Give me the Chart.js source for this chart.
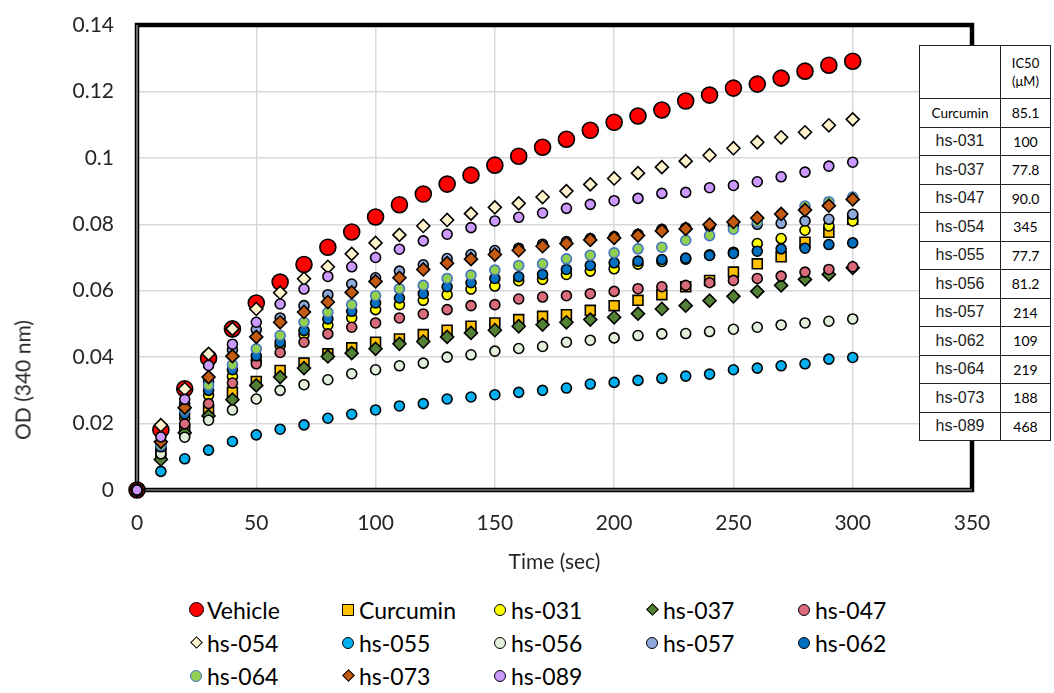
<!DOCTYPE html>
<html>
<head>
<meta charset="utf-8">
<script src="https://cdn.jsdelivr.net/npm/chart.js@4.4.1/dist/chart.umd.min.js"></script>
<style>
  html, body { margin: 0; padding: 0; background: #fff; }
  body { width: 1054px; height: 693px; position: relative; overflow: hidden; font-family: Lato, "Noto Sans", sans-serif; }
  #wrap { position: absolute; left: 0; top: 0; width: 1054px; height: 585px; }
  #ytitle {
    position: absolute; left: 22px; top: 380px; transform: translate(-50%, -50%) rotate(-90deg);
    font-size: 21px; color: #262626; white-space: nowrap;
  }
  #legend {
    position: absolute; left: 188px; top: 593px;
    display: grid; grid-template-columns: repeat(5, 152px); grid-auto-rows: 33px;
    font-size: 23px; color: #000;
  }
  #legend .item { display: flex; align-items: center; }
  #legend .mk { width: 16px; height: 16px; display: flex; align-items: center; justify-content: center; margin-right: 3px; }
  #legend .mk span { display: block; box-sizing: border-box; border: 1.5px solid #000; }
  #ic50 {
    position: absolute; left: 919px; top: 45px; border-collapse: collapse; background: #fff;
    color: #000;
  }
  #ic50 td { border: 1.3px solid #222; padding: 0; text-align: center; height: 27.5px; }
  #ic50 td.name { width: 80px; font-family: "Liberation Sans", Arial, sans-serif; font-size: 16px; color: #222; }
  #ic50 td.name.small { font-family: Lato, sans-serif; font-size: 13.5px; color: #000; }
  #ic50 td.val { width: 49px; font-size: 14px; }
  #ic50 tr.head td { height: 52px; font-size: 13px; line-height: 18px; }
</style>
</head>
<body>
<div id="wrap"><canvas id="chart" width="1054" height="585"></canvas></div>
<div id="ytitle">OD (340 nm)</div>
<div id="legend"></div>
<table id="ic50"></table>
<script>
const timeSec = [0, 10, 20, 30, 40, 50, 60, 70, 80, 90, 100, 110, 120, 130, 140, 150, 160, 170, 180, 190, 200, 210, 220, 230, 240, 250, 260, 270, 280, 290, 300]

const vehicle = [0, 0.0181, 0.0305, 0.0397, 0.0485, 0.0563, 0.0626, 0.0679, 0.0731, 0.0777, 0.0822, 0.0859, 0.0891, 0.0921, 0.0948, 0.0978, 0.1005, 0.1032, 0.1056, 0.1083, 0.1107, 0.1126, 0.1144, 0.1171, 0.1189, 0.121, 0.1222, 0.124, 0.1261, 0.1279, 0.1291]
const curcumin = [0, 0.011, 0.0181, 0.0241, 0.0294, 0.0327, 0.036, 0.0382, 0.041, 0.0428, 0.0445, 0.0455, 0.0468, 0.0481, 0.0493, 0.0503, 0.0513, 0.0523, 0.0528, 0.0541, 0.0555, 0.0571, 0.0588, 0.0612, 0.0631, 0.0656, 0.0681, 0.0702, 0.0746, 0.0776, 0.0815]
const hs031 = [0, 0.0125, 0.0216, 0.0285, 0.0342, 0.039, 0.0435, 0.0468, 0.0496, 0.0518, 0.0543, 0.0558, 0.0571, 0.0588, 0.0605, 0.0614, 0.063, 0.0634, 0.0649, 0.0659, 0.0666, 0.068, 0.0688, 0.0695, 0.0708, 0.0716, 0.0742, 0.0757, 0.0782, 0.0795, 0.081]
const hs037 = [0, 0.0092, 0.0172, 0.0223, 0.0272, 0.0315, 0.034, 0.0367, 0.0402, 0.0412, 0.0425, 0.044, 0.0447, 0.0461, 0.0473, 0.0481, 0.0493, 0.0498, 0.0505, 0.0513, 0.052, 0.0531, 0.0545, 0.0555, 0.057, 0.0583, 0.0598, 0.0616, 0.0634, 0.0649, 0.0669]
const hs047 = [0, 0.0127, 0.0199, 0.026, 0.0322, 0.038, 0.0414, 0.0445, 0.047, 0.049, 0.0503, 0.0518, 0.053, 0.0543, 0.0555, 0.0558, 0.0575, 0.0581, 0.0585, 0.0591, 0.0598, 0.0606, 0.0612, 0.0616, 0.0624, 0.0631, 0.0637, 0.0644, 0.0656, 0.0664, 0.0672]
const hs054 = [0, 0.0195, 0.0304, 0.041, 0.0485, 0.0545, 0.0594, 0.0636, 0.0672, 0.0711, 0.0744, 0.0768, 0.0795, 0.0813, 0.0832, 0.0851, 0.0863, 0.0882, 0.09, 0.092, 0.0938, 0.0954, 0.0972, 0.099, 0.1008, 0.1029, 0.1047, 0.1062, 0.1077, 0.1098, 0.1116]
const hs055 = [0, 0.0056, 0.0094, 0.012, 0.0146, 0.0166, 0.0183, 0.0196, 0.0216, 0.0228, 0.0241, 0.0253, 0.026, 0.0274, 0.028, 0.0287, 0.0294, 0.03, 0.0307, 0.0319, 0.0324, 0.033, 0.0336, 0.0343, 0.0349, 0.0362, 0.0367, 0.0374, 0.038, 0.0394, 0.0399]
const hs056 = [0, 0.0109, 0.0159, 0.021, 0.0241, 0.0274, 0.03, 0.0317, 0.0332, 0.035, 0.0362, 0.0374, 0.0382, 0.04, 0.0407, 0.0418, 0.0426, 0.0432, 0.0445, 0.0451, 0.0458, 0.0465, 0.047, 0.0471, 0.0477, 0.0484, 0.049, 0.0497, 0.0503, 0.0508, 0.0515]
const hs057 = [0, 0.014, 0.026, 0.0325, 0.0422, 0.0483, 0.0518, 0.0555, 0.0588, 0.062, 0.0639, 0.0659, 0.0678, 0.0697, 0.0709, 0.0721, 0.0728, 0.074, 0.0748, 0.0757, 0.0763, 0.077, 0.0785, 0.0789, 0.0794, 0.0795, 0.08, 0.0803, 0.081, 0.0815, 0.083]
const hs062 = [0, 0.013, 0.0229, 0.03, 0.0362, 0.0404, 0.0445, 0.048, 0.0515, 0.0538, 0.0563, 0.0578, 0.0591, 0.0612, 0.0624, 0.0637, 0.0642, 0.0649, 0.0664, 0.0676, 0.0684, 0.0689, 0.0694, 0.0698, 0.0706, 0.0712, 0.0719, 0.0726, 0.0728, 0.0739, 0.0744]
const hs064 = [0, 0.0135, 0.024, 0.0315, 0.0377, 0.0425, 0.0465, 0.0505, 0.0535, 0.0558, 0.0585, 0.0606, 0.0616, 0.0637, 0.0647, 0.0662, 0.0676, 0.0681, 0.0696, 0.0707, 0.0714, 0.0726, 0.0731, 0.0752, 0.0766, 0.0785, 0.0807, 0.083, 0.0855, 0.0868, 0.0882]
const hs073 = [0, 0.0145, 0.0248, 0.034, 0.0403, 0.0461, 0.0505, 0.0536, 0.0566, 0.0595, 0.0628, 0.0639, 0.0664, 0.0683, 0.0695, 0.0709, 0.0722, 0.0734, 0.0742, 0.0753, 0.0759, 0.0766, 0.078, 0.0786, 0.0799, 0.0807, 0.0819, 0.0831, 0.0843, 0.0856, 0.0875]
const hs089 = [0, 0.016, 0.0273, 0.0375, 0.0439, 0.0505, 0.056, 0.0605, 0.0643, 0.0672, 0.07, 0.0725, 0.075, 0.077, 0.079, 0.081, 0.0821, 0.0834, 0.0848, 0.086, 0.0871, 0.0878, 0.0893, 0.0896, 0.091, 0.0917, 0.0928, 0.0943, 0.0957, 0.0975, 0.0987]

// IC50 table
const tableNames = ["Curcumin", "hs-031", "hs-037", "hs-047", "hs-054", "hs-055", "hs-056", "hs-057", "hs-062", "hs-064", "hs-073", "hs-089"]
const ic50Values = ["85.1", "100", "77.8", "90.0", "345", "77.7", "81.2", "214", "109", "219", "188", "468"]

const series = [
  { label: "Vehicle", data: vehicle, shape: "circle", fill: "#ff0000", r: 8 },
  { label: "Curcumin", data: curcumin, shape: "rect", fill: "#ffc000", r: 7 },
  { label: "hs-031", data: hs031, shape: "circle", fill: "#ffff00", r: 5 },
  { label: "hs-037", data: hs037, shape: "rectRot", fill: "#548235", r: 6.5 },
  { label: "hs-047", data: hs047, shape: "circle", fill: "#d96b7a", r: 5 },
  { label: "hs-054", data: hs054, shape: "rectRot", fill: "#fff2cc", r: 6.5 },
  { label: "hs-055", data: hs055, shape: "circle", fill: "#00b0f0", r: 5 },
  { label: "hs-056", data: hs056, shape: "circle", fill: "#e2efda", r: 5 },
  { label: "hs-057", data: hs057, shape: "circle", fill: "#8ea9db", r: 5 },
  { label: "hs-062", data: hs062, shape: "circle", fill: "#0070c0", r: 5 },
  { label: "hs-064", data: hs064, shape: "circle", fill: "#92d050", r: 5, border: "#4472c4" },
  { label: "hs-073", data: hs073, shape: "rectRot", fill: "#c55a11", r: 6.5 },
  { label: "hs-089", data: hs089, shape: "circle", fill: "#cc99ff", r: 5 },
]

// later series sit on top, like the spreadsheet
const datasets = series.map((s, i) => ({
  label: s.label,
  data: timeSec.map((t, k) => ({ x: t, y: s.data[k] })),
  pointStyle: s.shape,
  pointRadius: s.r,
  pointHoverRadius: s.r,
  pointBackgroundColor: s.fill,
  pointBorderColor: s.border || "#000",
  pointBorderWidth: 1.6,
  showLine: false,
  order: series.length - i,
  clip: false,
}))

const framePlugin = {
  id: "frame",
  beforeDatasetsDraw(chart) {
    const { ctx, chartArea: a } = chart
    ctx.save()
    ctx.strokeStyle = "#000"
    ctx.lineWidth = 4.5
    ctx.strokeRect(a.left, a.top, a.right - a.left, a.bottom - a.top)
    ctx.strokeStyle = "#b0b0b0"
    ctx.lineWidth = 1.2
    ctx.beginPath()
    ctx.moveTo(a.left, a.top)
    ctx.lineTo(a.left, a.bottom)
    ctx.lineTo(a.right, a.bottom)
    ctx.stroke()
    ctx.restore()
  },
}

const tickColor = "#262626"
const tickFont = { family: "Lato, 'Noto Sans', sans-serif", size: 21 }
// invisible tick marks push labels away from the frame without adding top padding
const gridOpts = (len) => ({ color: "#d9d9d9", lineWidth: 1.5, drawTicks: true, tickLength: len, tickColor: "rgba(0,0,0,0)" })

new Chart(document.getElementById("chart"), {
  type: "scatter",
  data: { datasets },
  options: {
    responsive: false,
    animation: false,
    layout: { autoPadding: false, padding: { left: 0, top: 25, right: 82, bottom: 0 } },
    plugins: { legend: { display: false }, tooltip: { enabled: false } },
    scales: {
      x: {
        type: "linear",
        min: 0,
        max: 350,
        ticks: { stepSize: 50, color: tickColor, font: tickFont, padding: 0, maxRotation: 0 },
        grid: gridOpts(21),
        border: { display: false },
        title: { display: true, text: "Time (sec)", color: tickColor, font: { family: tickFont.family, size: 21 }, padding: { bottom: 10 } },
        afterFit: (s) => { s.height = 95 },
      },
      y: {
        min: 0,
        max: 0.14,
        ticks: { stepSize: 0.02, color: tickColor, font: tickFont, padding: 0, callback: (v) => String(+v.toFixed(2)) },
        grid: gridOpts(23),
        border: { display: false },
        afterFit: (s) => { s.width = 137 },
      },
    },
  },
  plugins: [framePlugin],
})

// legend
const legendEl = document.getElementById("legend")
for (const s of series) {
  const item = document.createElement("div")
  item.className = "item"
  const mk = document.createElement("div")
  mk.className = "mk"
  const sh = document.createElement("span")
  sh.style.background = s.fill
  if (s.border) sh.style.borderColor = s.border
  if (s.shape === "circle") {
    const d = s.label === "Vehicle" ? 15 : 12
    sh.style.width = d + "px"
    sh.style.height = d + "px"
    sh.style.borderRadius = "50%"
  } else if (s.shape === "rect") {
    sh.style.width = "12px"
    sh.style.height = "12px"
  } else {
    sh.style.width = "9px"
    sh.style.height = "9px"
    sh.style.transform = "rotate(45deg)"
  }
  mk.appendChild(sh)
  const txt = document.createElement("span")
  txt.textContent = s.label
  item.appendChild(mk)
  item.appendChild(txt)
  legendEl.appendChild(item)
}

// IC50 table
const table = document.getElementById("ic50")
const head = document.createElement("tr")
head.className = "head"
head.innerHTML = '<td class="name"></td><td class="val">IC50<br>(μM)</td>'
table.appendChild(head)
tableNames.forEach((n, i) => {
  const tr = document.createElement("tr")
  const a = document.createElement("td")
  a.className = n === "Curcumin" ? "name small" : "name"
  a.textContent = n
  const b = document.createElement("td")
  b.className = "val"
  b.textContent = ic50Values[i]
  tr.appendChild(a)
  tr.appendChild(b)
  table.appendChild(tr)
})
</script>
</body>
</html>
